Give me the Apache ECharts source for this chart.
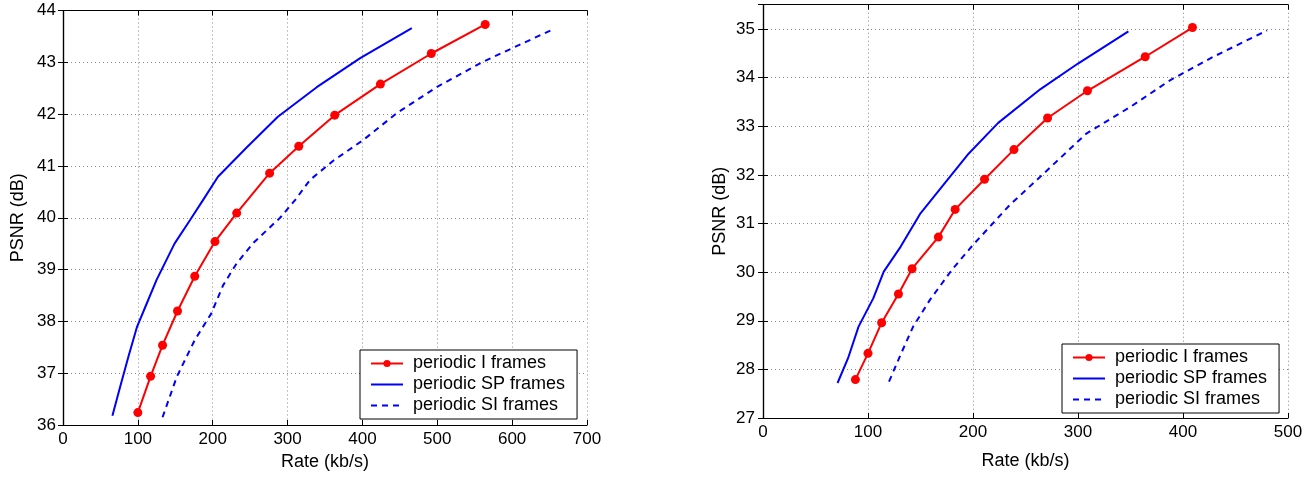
<!DOCTYPE html>
<html>
<head>
<meta charset="utf-8">
<script src="https://cdn.jsdelivr.net/npm/echarts@6/dist/echarts.min.js"></script>
<style>html,body{margin:0;padding:0;background:#fff}#c{width:1314px;height:477px}</style>
</head>
<body>
<div id="c"></div>
<script>
// Left chart data
const leftIRate = [100,117,133,153,176,203,232,276,315,363,424,492,564];
const leftIPsnr = [36.24,36.94,37.54,38.20,38.87,39.54,40.09,40.86,41.38,41.98,42.58,43.17,43.73];
const leftSPRate = [66,77,88,99,112,125,149,170,187,207,245,287,339,397,466];
const leftSPPsnr = [36.18,36.77,37.35,37.90,38.35,38.80,39.50,39.96,40.34,40.79,41.35,41.95,42.52,43.08,43.66];
const leftSIRate = [133,152,176,198,214,232,254,290,310,330,361,401,446,499,561,655];
const leftSIPsnr = [36.15,36.93,37.64,38.15,38.70,39.12,39.51,40.00,40.34,40.73,41.10,41.50,42.02,42.52,43.01,43.64];
// Right chart data
const rightIRate = [88,100,113,129,142,167,183,211,239,271,309,364,409];
const rightIPsnr = [27.79,28.33,28.96,29.55,30.07,30.72,31.29,31.91,32.52,33.17,33.73,34.43,35.03];
const rightSPRate = [71,81,91,105,115,131,150,172,196,224,264,300,348];
const rightSPPsnr = [27.72,28.23,28.88,29.46,30.01,30.52,31.21,31.80,32.44,33.07,33.76,34.29,34.95];
const rightSIRate = [120,131,143,159,180,200,235,264,308,350,388,429,480];
const rightSIPsnr = [27.75,28.30,28.88,29.43,30.05,30.56,31.38,31.96,32.85,33.40,33.95,34.43,34.97];

const names = ['periodic I frames','periodic SP frames','periodic SI frames'];
const xTitle = 'Rate (kb/s)';
const yTitle = 'PSNR (dB)';

const FONT = '"Liberation Sans", Arial, Helvetica, sans-serif';
const zip = (a,b) => a.map((v,i)=>[v,b[i]]);

function mainX(gi, min, max, interval, nameGap){
  return {type:'value', gridIndex:gi, min, max, interval, position:'bottom',
    name:xTitle, nameLocation:'middle', nameGap,
    nameTextStyle:{fontFamily:FONT, fontSize:18, color:'#000'},
    axisLine:{show:true, lineStyle:{color:'#000', width:1.2}},
    axisTick:{show:true, inside:true, length:5, lineStyle:{color:'#000'}},
    axisLabel:{fontFamily:FONT, fontSize:17, color:'#000', margin:6},
    splitLine:{show:true, lineStyle:{type:[1,3], color:'#888', width:1}}};
}
function topX(gi, min, max, interval){
  return {type:'value', gridIndex:gi, min, max, interval, position:'top',
    axisLine:{show:true, lineStyle:{color:'#000', width:1.2}},
    axisTick:{show:true, inside:true, length:5, lineStyle:{color:'#000'}},
    axisLabel:{show:false}, splitLine:{show:false}};
}
function mainY(gi, min, max, interval, nameGap, margin){
  return {type:'value', gridIndex:gi, min, max, interval, position:'left',
    name:yTitle, nameLocation:'middle', nameGap,
    nameTextStyle:{fontFamily:FONT, fontSize:18, color:'#000'},
    axisLine:{show:true, lineStyle:{color:'#000', width:1.2}},
    axisTick:{show:true, inside:true, length:5, lineStyle:{color:'#000'}},
    axisLabel:{fontFamily:FONT, fontSize:17, color:'#000', margin, showMaxLabel: max % 1 === 0},
    splitLine:{show:true, lineStyle:{type:[1,3], color:'#888', width:1}}};
}
function rightY(gi, min, max, interval){
  return {type:'value', gridIndex:gi, min, max, interval, position:'right',
    axisLine:{show:true, lineStyle:{color:'#000', width:1.2}},
    axisTick:{show:true, inside:true, length:5, lineStyle:{color:'#000'}},
    axisLabel:{show:false}, splitLine:{show:false}};
}
function seriesSet(xi, yi, iR, iP, spR, spP, siR, siP){
  return [
    {name:names[0], type:'line', xAxisIndex:xi, yAxisIndex:yi, data:zip(iR,iP),
      symbol:'circle', symbolSize:9, showSymbol:true,
      lineStyle:{color:'#ff0000', width:2}, itemStyle:{color:'#ff0000'}, animation:false},
    {name:names[1], type:'line', xAxisIndex:xi, yAxisIndex:yi, data:zip(spR,spP),
      symbol:'none', lineStyle:{color:'#0000ff', width:2}, itemStyle:{color:'#0000ff'}, animation:false},
    {name:names[2], type:'line', xAxisIndex:xi, yAxisIndex:yi, data:zip(siR,siP),
      symbol:'none', lineStyle:{color:'#0000ff', width:2, type:[6,5]}, itemStyle:{color:'#0000ff'}, animation:false}
  ];
}
const hidden = {color:'rgba(0,0,0,0)', borderWidth:0, opacity:0};
function legend(left, top){
  return {orient:'vertical', left, top,
    data:[
      {name:names[0], itemStyle:{color:'#ff0000'}},
      {name:names[1], itemStyle:hidden},
      {name:names[2], itemStyle:hidden}
    ],
    backgroundColor:'#fff', borderColor:'#000', borderWidth:1,
    padding:[4,12,4,10], itemGap:2, itemWidth:32, itemHeight:9,
    textStyle:{fontFamily:FONT, fontSize:18, color:'#000', lineHeight:19, padding:[0,0,0,5]},
    selectedMode:false};
}

const chart = echarts.init(document.getElementById('c'), null, {renderer:'canvas'});
const s1 = seriesSet(0,0,leftIRate,leftIPsnr,leftSPRate,leftSPPsnr,leftSIRate,leftSIPsnr);
const s2 = seriesSet(2,2,rightIRate,rightIPsnr,rightSPRate,rightSPPsnr,rightSIRate,rightSIPsnr);
chart.setOption({
  backgroundColor:'#fff',
  animation:false,
  grid:[
    {left:63, right:727, top:10.5, bottom:52, containLabel:false},
    {left:763, right:26, top:4.7, bottom:59, containLabel:false}
  ],
  legend:[legend(360,350), legend(1062,344)],
  xAxis:[mainX(0,0,700,100,27), topX(0,0,700,100), mainX(1,0,500,100,34), topX(1,0,500,100)],
  yAxis:[mainY(0,36,44,1,36,7), rightY(0,36,44,1), mainY(1,27,35.5,1,34,8), rightY(1,27,35.5,1)],
  series: s1.concat(s2)
});
</script>
</body>
</html>
